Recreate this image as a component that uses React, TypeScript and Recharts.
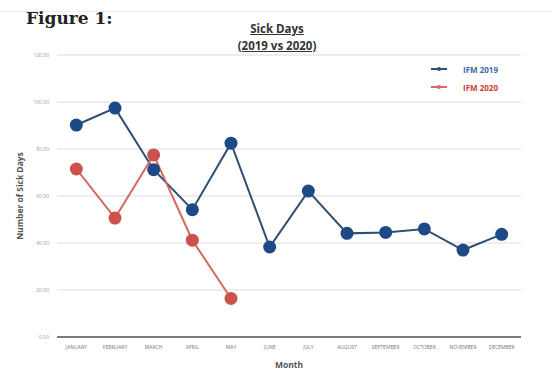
import { LineChart, Line, XAxis, YAxis, CartesianGrid, Label } from "recharts";

const months = [
  "JANUARY", "FEBRUARY", "MARCH", "APRIL", "MAY", "JUNE",
  "JULY", "AUGUST", "SEPTEMBER", "OCTOBER", "NOVEMBER", "DECEMBER",
];
const ifm2019 = [90.2, 97.4, 71.2, 54.2, 82.5, 38.3, 62.1, 44.1, 44.5, 46.0, 37.0, 43.7];
const ifm2020: (number | null)[] = [71.5, 50.6, 77.5, 41.2, 16.4, null, null, null, null, null, null, null];
const yTicks = [0, 20, 40, 60, 80, 100, 120];

const BLUE = "#1d4a86";
const BLUE_LINE = "#2f4f73";
const RED = "#cc524b";
const RED_LINE = "#d26a63";

const data = months.map((m, i) => ({ month: m, y2019: ifm2019[i], y2020: ifm2020[i] }));

const font = "'Open Sans', 'Liberation Sans', sans-serif";

function LegendBox() {
  const items = [
    { label: "IFM 2019", color: BLUE_LINE, text: "#3d6aa6" },
    { label: "IFM 2020", color: RED_LINE, text: "#c8403a" },
  ];
  return (
    <div style={{ position: "absolute", left: 431, top: 60, fontFamily: font }}>
      {items.map((it) => (
        <div key={it.label} style={{ display: "flex", alignItems: "center", height: 18 }}>
          <svg width={16} height={6} style={{ marginRight: 16 }}>
            <line x1={0} y1={3} x2={16} y2={3} stroke={it.color} strokeWidth={2} />
            <circle cx={8} cy={3} r={2} fill={it.color} />
          </svg>
          <span style={{ fontSize: 8, fontWeight: 700, color: it.text }}>{it.label}</span>
        </div>
      ))}
    </div>
  );
}

export default function App() {
  return (
    <div style={{ position: "absolute", left: 0, top: 0, width: 552, height: 376, background: "#fff", fontFamily: font }}>
      <div style={{ position: "absolute", left: 0, right: 0, top: 11, borderTop: "1px solid #eee" }} />
      <div style={{ position: "absolute", left: 26, top: 8, fontFamily: "'DejaVu Serif', 'Liberation Serif', serif", fontWeight: 700, fontSize: 17, color: "#222" }}>
        Figure 1:
      </div>
      <div style={{ position: "absolute", left: 0, width: 552, top: 20, textAlign: "center", fontSize: 11.5, fontWeight: 700, color: "#333", lineHeight: "17px" }}>
        <div style={{ paddingLeft: 2 }}><span style={{ textDecoration: "underline" }}>Sick Days</span></div>
        <div style={{ paddingLeft: 2 }}><span style={{ textDecoration: "underline" }}>(2019 vs 2020)</span></div>
      </div>
      <LineChart width={552} height={376} data={data} margin={{ top: 55, right: 31, bottom: 0, left: 18 }} style={{ position: "absolute", left: 0, top: 0 }}>
        <CartesianGrid vertical={false} stroke="#dcdcdc" strokeWidth={1} />
        <XAxis
          dataKey="month"
          scale="band"
          height={39}
          tickLine={false}
          axisLine={{ stroke: "#555", strokeWidth: 1.5 }}
          tick={{ fontSize: 5, fill: "#777", fontFamily: font }}
          tickMargin={2}
          interval={0}
        >
          <Label value="Month" position="insideBottom" offset={8} style={{ fontSize: 8.5, fontWeight: 700, fill: "#555", fontFamily: font }} />
        </XAxis>
        <YAxis
          domain={[0, 120]}
          ticks={yTicks}
          width={39}
          tickLine={false}
          axisLine={false}
          tickFormatter={(v: number) => v.toFixed(2)}
          tick={{ fontSize: 5, fill: "#999", fontFamily: font }}
        >
          <Label value="Number of Sick Days" angle={-90} position="insideLeft" offset={2} style={{ textAnchor: "middle", fontSize: 8.5, fontWeight: 700, fill: "#555", fontFamily: font }} />
        </YAxis>
        <Line
          dataKey="y2019"
          stroke={BLUE_LINE}
          strokeWidth={2}
          dot={{ r: 6.5, fill: BLUE, stroke: BLUE, strokeWidth: 0 }}
          isAnimationActive={false}
        />
        <Line
          dataKey="y2020"
          stroke={RED_LINE}
          strokeWidth={2}
          dot={{ r: 6.5, fill: RED, stroke: RED, strokeWidth: 0 }}
          connectNulls={false}
          isAnimationActive={false}
        />
      </LineChart>
      <LegendBox />
    </div>
  );
}
